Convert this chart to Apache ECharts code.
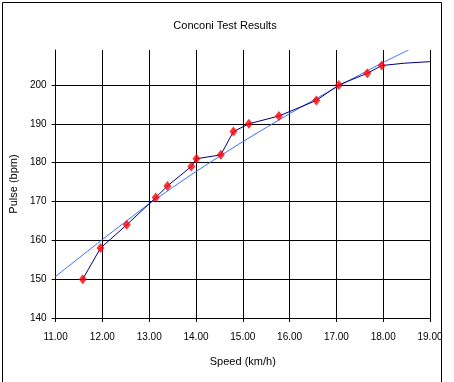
<!DOCTYPE html>
<html>
<head>
<meta charset="utf-8">
<script src="https://cdn.jsdelivr.net/npm/echarts@6/dist/echarts.min.js"></script>
<style>html,body{margin:0;padding:0;background:#fff}#c{width:454px;height:382px}</style>
</head>
<body>
<div id="c"></div>
<script>
// Measured data points (red markers)
var speed = [11.58, 11.96, 12.52, 13.14, 13.39, 13.90, 14.01, 14.53, 14.80, 15.13, 15.77, 16.57, 17.05, 17.66, 17.97];
var pulse = [150, 158, 164, 171, 174, 179, 181, 182, 188, 190, 192, 196, 200, 203, 205];
// Continuation of the dark line after the last marker
var tailSpeed = [18.45, 19.0];
var tailPulse = [205.6, 206.0];
// Light-blue trend line
var trendSpeed = [11, 12, 13, 14, 15, 16, 17, 18, 18.54];
var trendPulse = [150.7, 160.2, 169.4, 177.7, 185.4, 192.6, 199.4, 205.8, 209.0];
// Tick labels
var xTicks = [11, 12, 13, 14, 15, 16, 17, 18, 19];
var yTicks = [140, 150, 160, 170, 180, 190, 200];

function pairs(xs, ys) { return xs.map(function (x, i) { return [x, ys[i]]; }); }
var lineData = pairs(speed, pulse).concat(pairs(tailSpeed, tailPulse));

var FONT = 'Liberation Sans';
var chart = echarts.init(document.getElementById('c'), null, { renderer: 'canvas' });
chart.setOption({
  backgroundColor: '#ffffff',
  animation: false,
  title: {
    text: 'Conconi Test Results',
    left: 220, top: 15, textAlign: 'center',
    textStyle: { fontFamily: FONT, fontSize: 11, fontWeight: 'normal', color: '#000' }
  },
  graphic: [{
    type: 'rect', silent: true,
    shape: { x: 2.5, y: 2.5, width: 439, height: 400 },
    style: { fill: 'none', stroke: '#000', lineWidth: 1 }
  }],
  grid: { left: 53, right: 24, top: 50, bottom: 64, containLabel: false },
  xAxis: {
    type: 'value', min: 11, max: 19, interval: 1,
    name: 'Speed (km/h)', nameLocation: 'middle', nameGap: 38,
    nameTextStyle: { fontFamily: FONT, fontSize: 11, color: '#000' },
    axisLine: { show: true, lineStyle: { color: '#000', width: 1 } },
    axisTick: { show: true, inside: false, length: 4, lineStyle: { color: '#000' }, customValues: xTicks },
    axisLabel: { show: true, margin: 14, fontFamily: FONT, fontSize: 10, color: '#000', customValues: xTicks,
      formatter: function (v) { return v.toFixed(2); } },
    splitLine: { show: true, lineStyle: { color: '#000', width: 1 } }
  },
  yAxis: {
    type: 'value', min: 140, max: 209, interval: 10,
    name: 'Pulse (bpm)', nameLocation: 'middle', nameGap: 36, nameRotate: 90,
    nameTextStyle: { fontFamily: FONT, fontSize: 11, color: '#000' },
    axisLine: { show: true, lineStyle: { color: '#000', width: 1 } },
    axisTick: { show: true, inside: false, length: 4, lineStyle: { color: '#000' }, customValues: yTicks },
    axisLabel: { show: true, margin: 9, fontFamily: FONT, fontSize: 10, color: '#000', customValues: yTicks },
    splitLine: { show: true, lineStyle: { color: '#000', width: 1 } }
  },
  series: [
    {
      name: 'Trend', type: 'line', data: pairs(trendSpeed, trendPulse),
      smooth: 0.2, symbol: 'none',
      lineStyle: { color: '#3a6cff', width: 1 }, z: 3
    },
    {
      name: 'Line', type: 'line', data: lineData, symbol: 'none',
      lineStyle: { color: '#000080', width: 1 }, z: 4
    },
    {
      name: 'Pulse', type: 'scatter', data: pairs(speed, pulse),
      symbol: 'diamond', symbolSize: [8, 10],
      itemStyle: { color: '#ff0000' }, z: 5
    }
  ]
});
</script>
</body>
</html>
